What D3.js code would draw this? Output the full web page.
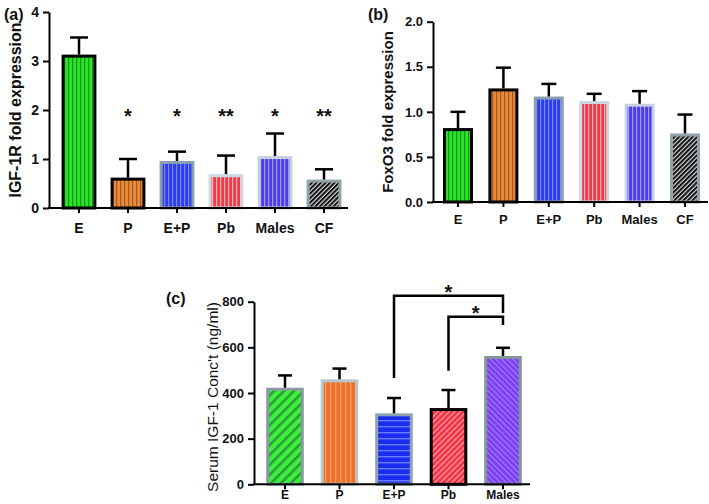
<!DOCTYPE html>
<html><head><meta charset="utf-8">
<script src="https://cdn.jsdelivr.net/npm/d3@7"></script>
<style>
body{margin:0;background:#fff;}
svg{display:block;font-family:"Liberation Sans",Arial,sans-serif;}
</style></head>
<body>
<script>
// ---- data ----
const catsAB = ["E","P","E+P","Pb","Males","CF"];
const igf1rMean = [3.13,0.62,0.96,0.69,1.06,0.58];
const igf1rErr  = [3.48,1.00,1.15,1.07,1.52,0.79];
const igf1rStars = ["","*","*","**","*","**"];
const foxo3Mean = [0.82,1.26,1.17,1.12,1.09,0.76];
const foxo3Err  = [1.00,1.49,1.31,1.20,1.23,0.97];
const catsC = ["E","P","E+P","Pb","Males"];
const serumMean = [423,460,311,334,562];
const serumErr  = [477,507,378,413,598];
const ticksA = [0,1,2,3,4];
const ticksB = [0,0.5,1.0,1.5,2.0];
const ticksC = [0,200,400,600,800];
// brackets: [fromCat, toCat, barY, leftFoot, rightFoot]
const bracketsC = [["E+P","Males",826,466,751],["Pb","Males",734,498,698]];

const W=709,H=504;
const svg=d3.select("body").append("svg").attr("width",W).attr("height",H);
const defs=svg.append("defs");

function pat(id,bg,fg,type,sp,lw){
  const p=defs.append("pattern").attr("id",id).attr("patternUnits","userSpaceOnUse")
    .attr("width",sp).attr("height",sp);
  if(type==="d1"||type==="d2") p.attr("patternTransform","rotate("+(type==="d1"?45:-45)+")");
  p.append("rect").attr("width",sp).attr("height",sp).attr("fill",bg);
  if(type==="h") p.append("rect").attr("x",0).attr("y",0).attr("width",sp).attr("height",lw).attr("fill",fg);
  else p.append("rect").attr("x",0).attr("y",0).attr("width",lw).attr("height",sp).attr("fill",fg);
}
// panel a/b patterns
pat("gA","#2fe02f","#0f9a0f","v",4,1.2);
pat("oA","#e88a3c","#a65a1c","v",4,1.2);
pat("bA","#2c3cf0","#7a88ff","v",4,1.2);
pat("rA","#f23a48","#ffb0b8","v",4,1.2);
pat("mA","#4b3cf0","#a49cff","v",4,1.2);
pat("cA","#d8d8d8","#111","d1",3.2,2.0);
// panel c patterns
pat("gC","#3cf03c","#2f9a3a","d1",7,2.6);
pat("oC","#f07028","#f6a06c","v",5,1.3);
pat("bC","#1a2cf0","#6a7cff","h",6,1.4);
pat("rC","#f23040","#ffa0aa","d1",4,1.3);
pat("mC","#7a3cf0","#a07cff","d2",4,1.3);

const styleAB=[["gA","#000"],["oA","#000"],["bA","#8aa0ac"],["rA","#cdd8e0"],["mA","#c8d0e2"],["cA","#8fa3a8"]];
const styleC=[["gC","#8a9aa2"],["oC","#b8c6d0"],["bC","#8ea2ae"],["rC","#000"],["mC","#84949a"]];

function panel(o){
  const g=svg.append("g");
  const x=d3.scaleBand().domain(o.cats).range(o.xr).paddingInner(o.pi).paddingOuter(o.pi/2);
  const y=d3.scaleLinear().domain(o.yd).range(o.yr);
  const bw=x.bandwidth();
  // bars
  g.selectAll("rect.bar").data(o.mean).enter().append("rect")
    .attr("x",(d,i)=>x(o.cats[i])+1.5).attr("width",bw-3)
    .attr("y",d=>y(d)+1.5).attr("height",d=>y(0)-y(d)-1.5)
    .attr("fill",(d,i)=>"url(#"+o.st[i][0]+")").attr("stroke",(d,i)=>o.st[i][1]).attr("stroke-width",3);
  // error bars
  const eb=g.selectAll("g.eb").data(o.err).enter().append("g");
  eb.append("line").attr("x1",(d,i)=>x(o.cats[i])+bw/2).attr("x2",(d,i)=>x(o.cats[i])+bw/2)
    .attr("y1",(d,i)=>y(o.mean[i])).attr("y2",d=>y(d)).attr("stroke","#000").attr("stroke-width",2.5);
  eb.append("line").attr("x1",(d,i)=>x(o.cats[i])+bw/2-o.cap/2).attr("x2",(d,i)=>x(o.cats[i])+bw/2+o.cap/2)
    .attr("y1",d=>y(d)).attr("y2",d=>y(d)).attr("stroke","#000").attr("stroke-width",2.5);
  // y axis
  const ya=g.append("g").attr("transform","translate("+o.ax+",0)")
    .call(d3.axisLeft(y).tickValues(o.ticks).tickFormat(o.fmt).tickSize(6).tickSizeOuter(0).tickPadding(4));
  ya.select(".domain").attr("stroke-width",2);
  ya.selectAll(".tick line").attr("stroke-width",2);
  ya.selectAll("text").attr("font-size",o.tfs).attr("font-weight","bold").attr("fill","#111").attr("font-family","Liberation Sans, Arial, sans-serif");
  // x axis
  const xa=g.append("g").attr("transform","translate(0,"+y(0)+")")
    .call(d3.axisBottom(x).tickSize(5).tickSizeOuter(0).tickPadding(o.xpad));
  xa.select(".domain").remove();
  xa.selectAll(".tick line").attr("stroke-width",2);
  xa.selectAll("text").attr("font-size",o.xfs||o.tfs).attr("font-weight","bold").attr("fill","#111").attr("font-family","Liberation Sans, Arial, sans-serif");
  g.append("line").attr("x1",o.ax-1).attr("x2",o.xend).attr("y1",y(0)).attr("y2",y(0)).attr("stroke","#000").attr("stroke-width",2);
  // y title
  g.append("text").attr("transform","translate("+o.tx+","+o.ty+") rotate(-90)")
    .attr("text-anchor","middle").attr("font-size",o.tsz).attr("font-weight",o.tw).attr("fill","#111").text(o.title);
  // panel label
  g.append("text").attr("x",o.lx).attr("y",o.ly).attr("font-size",16).attr("font-weight","bold").attr("fill","#111").text(o.label);
  return {g,x,y,bw};
}

const A=panel({cats:catsAB,mean:igf1rMean,err:igf1rErr,st:styleAB,xr:[54.5,348.5],pi:0.29,
  yd:[0,4],yr:[208,12],ticks:ticksA,fmt:d3.format("d"),ax:49,xend:348,cap:18,tfs:14,xpad:10,
  title:"IGF-1R fold expression",tx:21,ty:110,tsz:16,tw:"bold",label:"(a)",lx:4,ly:20});
A.g.selectAll("text.star").data(igf1rStars).enter().append("text")
  .attr("x",(d,i)=>A.x(catsAB[i])+A.bw/2).attr("y",A.y(1.95)+11).attr("text-anchor","middle")
  .attr("font-size",20).attr("font-weight","bold").attr("fill","#111").text(d=>d);

panel({cats:catsAB,mean:foxo3Mean,err:foxo3Err,st:styleAB,xr:[435.3,707.7],pi:0.34,
  yd:[0,2],yr:[202,21.7],ticks:ticksB,fmt:d3.format(".1f"),ax:433,xend:708,cap:15,tfs:13,xpad:8,
  title:"FoxO3 fold expression",tx:393,ty:112,tsz:15,tw:"bold",label:"(b)",lx:368,ly:20});

const C=panel({cats:catsC,mean:serumMean,err:serumErr,st:styleC,xr:[257.75,530.25],pi:0.31,
  yd:[0,800],yr:[484.3,301.7],ticks:ticksC,fmt:d3.format("d"),ax:254,xend:530,cap:14,tfs:13,xfs:12,xpad:1,
  title:"Serum IGF-1 Conc't (ng/ml)",tx:218,ty:397,tsz:15.5,tw:"normal",label:"(c)",lx:166,ly:304});
bracketsC.forEach(b=>{
  const x1=C.x(b[0])+C.bw/2, x2=C.x(b[1])+C.bw/2;
  C.g.append("path").attr("fill","none").attr("stroke","#000").attr("stroke-width",2.5)
    .attr("d","M"+x1+","+C.y(b[3])+"V"+C.y(b[2])+"H"+x2+"V"+C.y(b[4]));
  C.g.append("text").attr("x",(x1+x2)/2).attr("y",C.y(b[2])+3).attr("text-anchor","middle")
    .attr("font-size",20).attr("font-weight","bold").attr("fill","#111").text("*");
});
</script>
</body></html>
